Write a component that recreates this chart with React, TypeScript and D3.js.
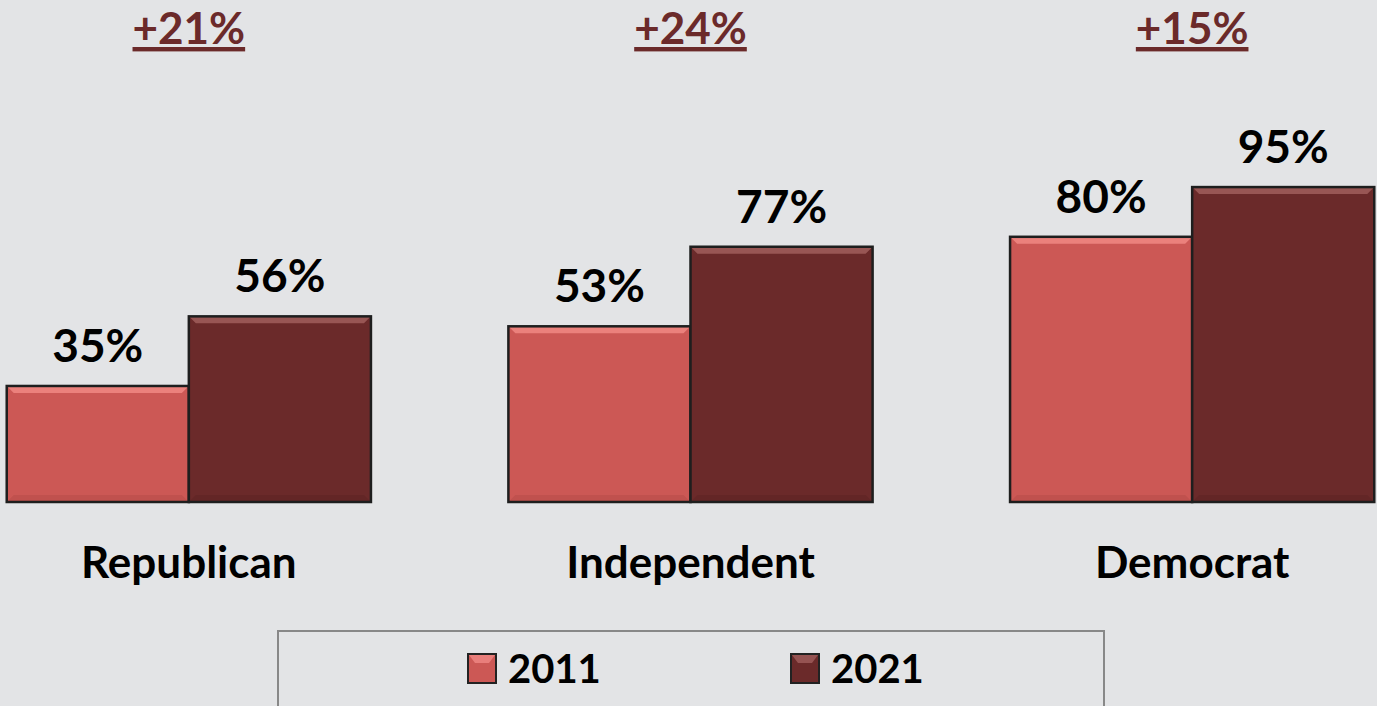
import React from "react";
import * as d3 from "d3";

const categories = ["Republican", "Independent", "Democrat"];
const years = ["2011", "2021"];
const values2011 = [35, 53, 80];
const values2021 = [56, 77, 95];
const changeLabels = ["+21%", "+24%", "+15%"];

const W = 1377;
const H = 706;
const FONT = "Lato, 'Open Sans', sans-serif";
const colors: Record<string, string> = { "2011": "#cc5855", "2021": "#6b2a2a" };
const lightColors: Record<string, string> = { "2011": "#f08884", "2021": "#a05e5c" };
const darkColors: Record<string, string> = { "2011": "#b84c49", "2021": "#5e2424" };

export default function App() {
  const x0 = d3.scaleBand<string>().domain(categories).range([-62, 1443]).paddingInner(0.274).paddingOuter(0.137);
  const x1 = d3.scaleBand<string>().domain(years).range([0, x0.bandwidth()]);
  const y = d3.scaleLinear().domain([0, 100]).range([502, 170.5]);
  const series: Record<string, number[]> = { "2011": values2011, "2021": values2021 };

  const bev = 7;

  return (
    <svg width={W} height={H} style={{ position: "absolute", left: 0, top: 0, background: "#e3e4e6" }} fontFamily={FONT}>
      <rect x={0} y={0} width={W} height={H} fill="#e3e4e6" />
      {categories.map((c, i) => {
        const gx = x0(c)!;
        const cx = gx + x0.bandwidth() / 2;
        return (
          <g key={c}>
            {years.map((yr) => {
              const v = series[yr][i];
              const bx = gx + x1(yr)!;
              const bw = x1.bandwidth();
              const top = y(v);
              const bottom = y(0);
              return (
                <g key={yr}>
                  <rect x={bx} y={top} width={bw} height={bottom - top} fill={colors[yr]} />
                  <polygon
                    points={`${bx},${top} ${bx + bw},${top} ${bx + bw - bev},${top + bev} ${bx + bev},${top + bev}`}
                    fill={lightColors[yr]}
                    opacity={0.85}
                  />
                  <polygon
                    points={`${bx},${bottom} ${bx + bw},${bottom} ${bx + bw - bev},${bottom - bev} ${bx + bev},${bottom - bev}`}
                    fill={darkColors[yr]}
                    opacity={0.6}
                  />
                  <rect x={bx} y={top} width={bw} height={bottom - top} fill="none" stroke="#1e1e1e" strokeWidth={2.5} />
                  <text x={bx + bw / 2} y={top - 24} textAnchor="middle" fontSize={46} fontWeight={700} fill="#000">
                    {v}%
                  </text>
                </g>
              );
            })}
            <text x={cx} y={578} textAnchor="middle" fontSize={44} fontWeight={700} fill="#000">
              {c}
            </text>
            <text x={cx} y={44} textAnchor="middle" fontSize={44} fontWeight={700} fill="#6b2a2a" textDecoration="underline">
              {changeLabels[i]}
            </text>
          </g>
        );
      })}
      <rect x={278} y={631} width={826} height={90} fill="#e3e4e6" stroke="#888" strokeWidth={2} />
      {years.map((yr, j) => {
        const lx = [468, 791][j];
        return (
          <g key={yr}>
            <rect x={lx} y={654} width={28} height={29} fill={colors[yr]} stroke="#222" strokeWidth={2} />
            <polygon points={`${lx + 1},${655} ${lx + 27},${655} ${lx + 21},${663} ${lx + 7},${663}`} fill={lightColors[yr]} opacity={0.8} />
            <text x={lx + 40} y={683} fontSize={40} fontWeight={700} fill="#000">
              {yr}
            </text>
          </g>
        );
      })}
    </svg>
  );
}
